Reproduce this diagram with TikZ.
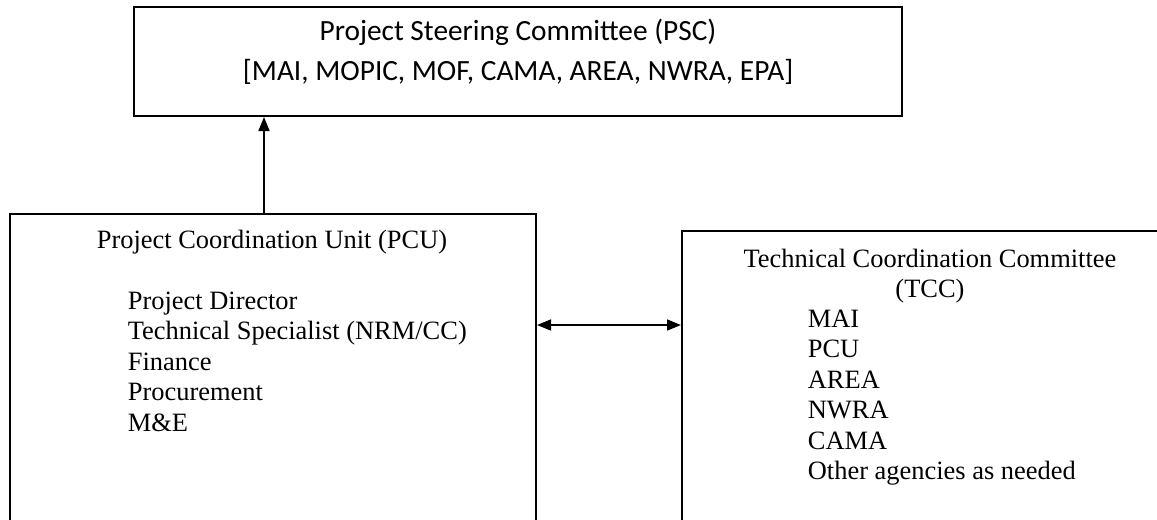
\documentclass[tikz,border=0pt]{standalone}
\usepackage{fontspec}
\setmainfont{Liberation Serif}
\newfontfamily\calibri{Carlito}
\usetikzlibrary{arrows.meta,positioning}
\tikzset{
  >={Triangle[length=6.3pt,width=4.9pt]},
  orgbox/.style={draw=black,line width=0.9pt,inner sep=0pt},
  pscline/.style={font=\calibri\fontsize{13.2}{18}\selectfont,anchor=base},
  ttl/.style={font=\fontsize{11.9}{13.7}\selectfont,anchor=base},
  itm/.style={font=\fontsize{11.9}{13.7}\selectfont,anchor=base west},
  arr/.style={->,line width=0.9pt},
}

\begin{document}
\begin{tikzpicture}[x=0.45pt,y=-0.45pt]
\useasboundingbox (0,0) rectangle (1157,519);
\clip (0,0) rectangle (1157,519);
% boxes
\node[orgbox,minimum width=345.6pt,minimum height=49.05pt] (psc) at (518,61.5) {};
\node[orgbox,minimum width=236.7pt,minimum height=148.95pt] (pcu) at (273,379.5) {};
\node[orgbox,minimum width=224.1pt,minimum height=141.3pt] (tcc) at (931,388) {};
% steering committee
\node[pscline] (psc1) at (518,40) {Project Steering Committee (PSC)};
\node[pscline] (psc2) at (518,80) {[MAI, MOPIC, MOF, CAMA, AREA, NWRA, EPA]};
% coordination unit
\node[ttl] (pcut) at (272,248) {Project Coordination Unit (PCU)};
\node[itm] (pcu1) at (120,309) {Project Director};
\node[itm] (pcu2) at (120,339.5) {Technical Specialist (NRM/CC)};
\node[itm] (pcu3) at (120,370) {Finance};
\node[itm] (pcu4) at (120,400.5) {Procurement};
\node[itm] (pcu5) at (120,431) {M\&E};
% technical committee
\node[ttl] (tcct1) at (930,267) {Technical Coordination Committee};
\node[ttl] (tcct2) at (930,297) {(TCC)};
\node[itm] (tcc1) at (800,327) {MAI};
\node[itm] (tcc2) at (800,357.5) {PCU};
\node[itm] (tcc3) at (800,388) {AREA};
\node[itm] (tcc4) at (800,418.5) {NWRA};
\node[itm] (tcc5) at (800,449) {CAMA};
\node[itm] (tcc6) at (800,479.5) {Other agencies as needed};
% links
\draw[arr] ([xshift=-4.05pt]pcu.north) -- ([xshift=-4.05pt]pcu.north |- psc.south);
\coordinate (lvl) at (609,325);
\draw[arr,<->] (lvl -| pcu.east) -- (lvl -| tcc.west);
\end{tikzpicture}
\end{document}
